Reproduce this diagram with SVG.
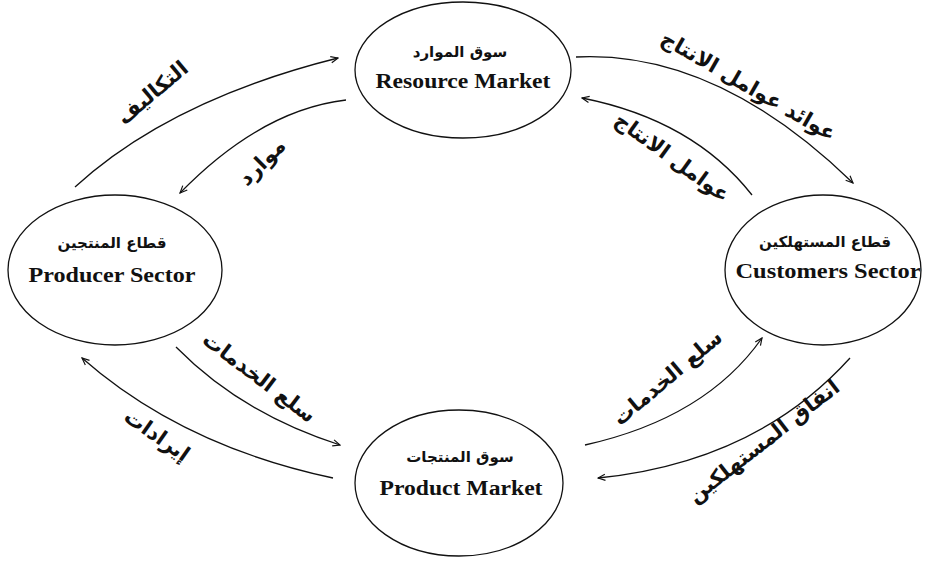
<svg xmlns="http://www.w3.org/2000/svg" width="925" height="562" viewBox="0 0 925 562">
<style>
.node ellipse{fill:#fff;stroke:#111;stroke-width:1.3}
.en{font-family:"Liberation Serif","Times New Roman",serif;font-weight:bold;font-size:20px;fill:#111;text-anchor:middle}
.ar{font-family:"DejaVu Sans","Noto Sans",sans-serif;font-weight:bold;font-size:15px;fill:#111;text-anchor:middle}
.lbl{font-family:"DejaVu Sans","Noto Sans",sans-serif;font-weight:bold;font-size:21px;fill:#111;text-anchor:middle}
#connectors path{fill:none;stroke:#111;stroke-width:1.3;marker-end:url(#arr)}
</style>
<defs>
<marker id="arr" viewBox="0 0 10 10" refX="9" refY="5" markerWidth="9" markerHeight="9" markerUnits="userSpaceOnUse" orient="auto">
<path d="M1,1.5 L9,5 L1,8.5" fill="none" stroke="#111" stroke-width="1.3"/>
</marker>
</defs>
<rect width="925" height="562" fill="#fff"/>
<g id="connectors">
<path d="M75,187 Q170,100 338,58"/>
<path d="M346,100 Q261,110 180,193"/>
<path d="M576,57 Q716,50 853,183"/>
<path d="M752,195 Q693,120 582,98"/>
<path d="M176,347 Q242,414 340,445"/>
<path d="M333,478 Q182,446 82,358"/>
<path d="M585,445 Q706,418 762,338"/>
<path d="M850,358 Q756,462 598,478"/>
</g>
<g id="labels">
<text class="lbl" transform="translate(157,98) rotate(-40)">التكاليف</text>
<text class="lbl" transform="translate(267,167) rotate(-45)">موارد</text>
<text class="lbl" transform="translate(745,92) rotate(30)">عوائد عوامل الانتاج</text>
<text class="lbl" transform="translate(668,163) rotate(36)">عوامل الانتاج</text>
<text class="lbl" transform="translate(255,383) rotate(37)">سلع الخدمات</text>
<text class="lbl" transform="translate(153,441) rotate(35)">إيرادات</text>
<text class="lbl" transform="translate(672,383) rotate(-40)">سلع الخدمات</text>
<text class="lbl" transform="translate(768,447) rotate(-38)">انفاق المستهلكين</text>
</g>
<g id="resource-market" class="node">
<ellipse cx="463" cy="70" rx="108" ry="68"/>
<text class="ar" x="460" y="57">سوق الموارد</text>
<text class="en" x="463" y="88" textLength="175" lengthAdjust="spacingAndGlyphs">Resource Market</text>
</g>
<g id="producer-sector" class="node">
<ellipse cx="115" cy="270" rx="107" ry="75"/>
<text class="ar" x="112" y="248">قطاع المنتجين</text>
<text class="en" x="112" y="282" textLength="167" lengthAdjust="spacingAndGlyphs">Producer Sector</text>
</g>
<g id="customers-sector" class="node">
<ellipse cx="823" cy="270" rx="98" ry="75"/>
<text class="ar" x="825" y="247">قطاع المستهلكين</text>
<text class="en" x="828" y="278" textLength="185" lengthAdjust="spacingAndGlyphs">Customers Sector</text>
</g>
<g id="product-market" class="node">
<ellipse cx="459" cy="483" rx="104" ry="73"/>
<text class="ar" x="460" y="462">سوق المنتجات</text>
<text class="en" x="461" y="495" textLength="163" lengthAdjust="spacingAndGlyphs">Product Market</text>
</g>
</svg>
